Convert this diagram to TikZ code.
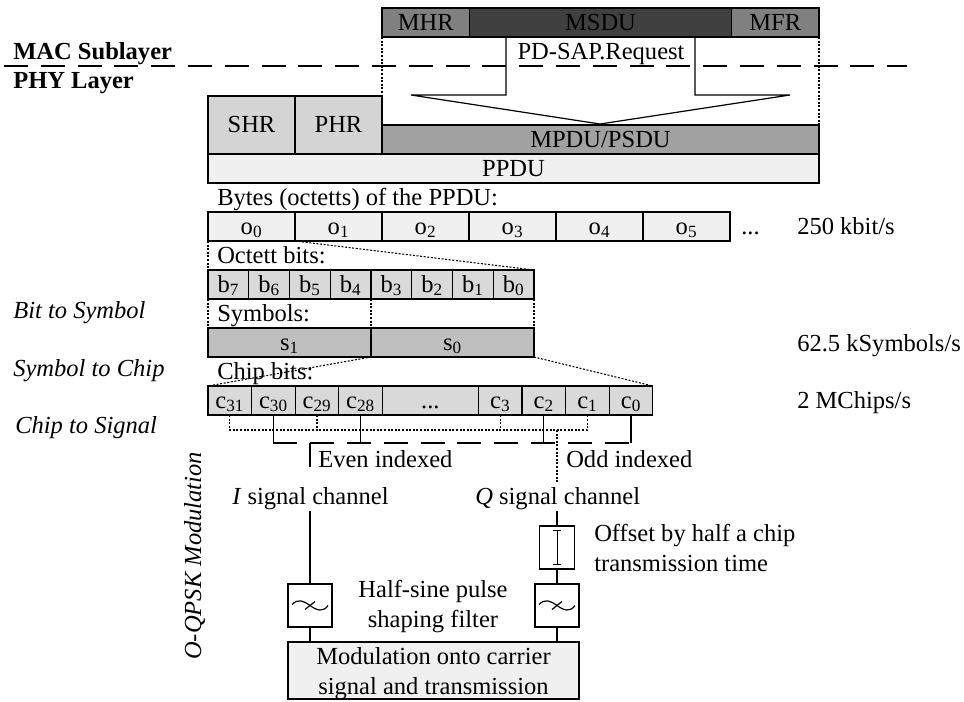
\documentclass[tikz,border=0pt]{standalone}
\usepackage{fontspec}
\setmainfont{Liberation Serif}
\usetikzlibrary{positioning}

\begin{document}
\begin{tikzpicture}[
    x=0.75pt, y=-0.75pt,
    every node/.style={font=\fontsize{18.4}{22.5}\selectfont},
    field/.style={draw, line width=0.9pt, inner sep=0pt, outer sep=0pt, minimum height=21.75pt, text height=13pt, text depth=1.75pt, minimum width=#1*0.75pt},
    txt/.style={inner sep=0pt, anchor=base west},
    sidenote/.style={txt, font=\fontsize{18.4}{22.5}\selectfont\itshape},
    head/.style={txt, font=\fontsize{18.4}{22.5}\selectfont\bfseries},
    conn/.style={line width=0.9pt},
    dots/.style={line width=0.8pt, dash pattern=on 1.5pt off 1.2pt},
    layerline/.style={line width=0.9pt, dash pattern=on 18pt off 9.6pt},
    filterbox/.style={draw, line width=0.9pt, outer sep=0pt, minimum width=33pt, minimum height=32.25pt, fill=white, anchor=north},
    lowpass/.pic={
        \draw[conn] (-18,-1) .. controls (-12,-7) and (-7,-5) .. (0,0) .. controls (7,5) and (13,7) .. (18,0);
        \draw[conn] (-5,4) -- (5,-4);
    }
]
\useasboundingbox (0,0) rectangle (964,701);

% MAC frame
\node[field=87.5, fill=black!50, anchor=north west] (mhr) at (382,8) {MHR};
\node[field=262, fill=black!75, right=0pt of mhr] (msdu) {MSDU};
\node[field=87.5, fill=black!50, right=0pt of msdu] (mfr) {MFR};

% PHY frame
\node[field=87, minimum height=43.5pt, fill=black!17, anchor=north west] (shr) at (208,96) {SHR};
\node[field=87, minimum height=43.5pt, fill=black!17, right=0pt of shr] (phr) {PHR};
\node[field=437, fill=black!37, anchor=south west] (mpdu) at (phr.south east) {MPDU/PSDU};
\node[field=611, fill=black!6, anchor=north west] (ppdu) at (shr.south west) {PPDU};

% Bytes
\node[field=87, fill=black!6, anchor=north west] (o0) at (208,212) {o\textsubscript{0}};
\node[field=87, fill=black!6, right=0pt of o0] (o1) {o\textsubscript{1}};
\node[field=87, fill=black!6, right=0pt of o1] (o2) {o\textsubscript{2}};
\node[field=87, fill=black!6, right=0pt of o2] (o3) {o\textsubscript{3}};
\node[field=87, fill=black!6, right=0pt of o3] (o4) {o\textsubscript{4}};
\node[field=87, fill=black!6, right=0pt of o4] (o5) {o\textsubscript{5}};

% Bits
\node[field=40.75, fill=black!15, anchor=north west] (b7) at (208,270) {b\textsubscript{7}};
\node[field=40.75, fill=black!15, right=0pt of b7] (b6) {b\textsubscript{6}};
\node[field=40.75, fill=black!15, right=0pt of b6] (b5) {b\textsubscript{5}};
\node[field=40.75, fill=black!15, right=0pt of b5] (b4) {b\textsubscript{4}};
\node[field=40.75, fill=black!15, right=0pt of b4] (b3) {b\textsubscript{3}};
\node[field=40.75, fill=black!15, right=0pt of b3] (b2) {b\textsubscript{2}};
\node[field=40.75, fill=black!15, right=0pt of b2] (b1) {b\textsubscript{1}};
\node[field=40.75, fill=black!15, right=0pt of b1] (b0) {b\textsubscript{0}};

% Symbols
\node[field=163, fill=black!25, anchor=north west] (s1) at (208,328) {s\textsubscript{1}};
\node[field=163, fill=black!25, right=0pt of s1] (s0) {s\textsubscript{0}};

% Chips
\node[field=43.6, fill=black!15, anchor=north west] (c31) at (208,386) {c\textsubscript{31}};
\node[field=43.6, fill=black!15, right=0pt of c31] (c30) {c\textsubscript{30}};
\node[field=43.6, fill=black!15, right=0pt of c30] (c29) {c\textsubscript{29}};
\node[field=43.6, fill=black!15, right=0pt of c29] (c28) {c\textsubscript{28}};
\node[field=96, fill=black!15, right=0pt of c28] (cdots) {...};
\node[field=43.6, fill=black!15, right=0pt of cdots] (c3) {c\textsubscript{3}};
\node[field=43.6, fill=black!15, right=0pt of c3] (c2) {c\textsubscript{2}};
\node[field=43.6, fill=black!15, right=0pt of c2] (c1) {c\textsubscript{1}};
\node[field=43.6, fill=black!15, right=0pt of c1] (c0) {c\textsubscript{0}};

% Modulation blocks
\node[filterbox] (ifilter) at (310,584) {};
\node[filterbox] (qfilter) at (557,584) {};
\node[filterbox, line width=1.1pt, minimum width=26.5pt] (offset) at (557,526) {};
\node[draw, line width=0.9pt, outer sep=0pt, inner sep=0pt, minimum width=218.25pt, minimum height=42.75pt, text depth=0pt, fill=black!6, align=center, anchor=north west] (carrier) at (288,642) {Modulation onto carrier\\signal and transmission};
\pic at (ifilter.center) {lowpass};
\pic at (qfilter.center) {lowpass};

% Labels
\node[head] (maclabel) at (13,59) {MAC Sublayer};
\node[head] (phylabel) at (13,88) {PHY Layer};
\node[txt, anchor=base] (request) at (601,59) {PD-SAP.Request};
\node[txt] (bytes) at (217,205) {Bytes (octetts) of the PPDU:};
\node[txt] (more) at (741,234) {...};
\node[txt] (byterate) at (797,234) {250 kbit/s};
\node[txt] (octett) at (217,263) {Octett bits:};
\node[txt] (symbols) at (217,321) {Symbols:};
\node[txt] (symrate) at (797,351) {62.5 kSymbols/s};
\node[txt] (chipbits) at (217,379) {Chip bits:};
\node[txt] (chiprate) at (797,408) {2 MChips/s};
\node[sidenote] (bitsym) at (13,318) {Bit to Symbol};
\node[sidenote] (symchip) at (13,376) {Symbol to Chip};
\node[sidenote] (chipsig) at (15,433) {Chip to Signal};
\node[sidenote, rotate=90] (oqpsk) at (201,660) {O-QPSK Modulation};
\node[txt] (even) at (318,467) {Even indexed};
\node[txt] (odd) at (566,467) {Odd indexed};
\node[txt] (ilabel) at (232,504) {\textit{I} signal channel};
\node[txt] (qlabel) at (475,504) {\textit{Q} signal channel};
\node[txt, align=left, anchor=north west] (offsetlabel) at (594,524) {Offset by half a chip\\transmission time};
\node[txt, align=center, anchor=north] (pulse) at (433,580) {Half-sine pulse\\shaping filter};

% Layer border
\coordinate (layerleft) at (4,66);
\coordinate (layerright) at (907,66);
\draw[layerline] (layerleft) -- (layerright);

% Hand over from MAC to PHY
\coordinate (reqleft) at (506,95);
\coordinate (reqright) at (695,95);
\coordinate (reqtip) at (600,124);
\draw[conn] (reqleft |- msdu.south) -- (reqleft) -- (411,95) -- (reqtip) -- (790,95) -- (reqright) -- (reqright |- msdu.south);
\draw[dots] (mhr.south west) -- (phr.north east);
\draw[dots] (mfr.south east) -- (mpdu.north east);

% Expansion between the rows
\draw[dots] (o0.south west) -- (b7.north west);
\draw[dots] (o0.south east) -- (b0.north east);
\draw[dots] (b7.south west) -- (s1.north west);
\draw[dots] (b4.south east) -- (s1.north east);
\draw[dots] (b0.south east) -- (s0.north east);
\draw[dots] (s1.south east) -- (c31.north west);
\draw[dots] (s0.south east) -- (c0.north east);

% Odd chips to Q
\coordinate (oddbus) at (557,430);
\coordinate (oddend) at (557,482);
\draw[dots] (c31.south) -- (c31.south |- oddbus) -- (c1.south |- oddbus) -- (c1.south);
\draw[dots] (c29.south) -- (c29.south |- oddbus);
\draw[dots] (c3.south) -- (c3.south |- oddbus);
\draw[dots] (oddbus) -- (oddend);

% Even chips to I
\coordinate (evenbus) at (310,443);
\coordinate (evenend) at (310,467);
\coordinate (istart) at (310,511);
\coordinate (qstart) at (557,511);
\draw[conn] (c30.south) -- (c30.south |- evenbus);
\draw[conn] (c28.south) -- (c28.south |- evenbus);
\draw[conn] (c2.south) -- (c2.south |- evenbus);
\draw[conn] (c0.south) -- (c0.south |- evenbus);
\draw[layerline] (c30.south |- evenbus) -- (c0.south |- evenbus);
\draw[conn] (evenbus) -- (evenend);

% Signal paths
\draw[conn] (istart) -- (ifilter.north);
\draw[conn] (ifilter.south) -- (ifilter.south |- carrier.north);
\draw[conn] (qfilter.south) -- (qfilter.south |- carrier.north);
\draw[conn] (offset.south) -- (qfilter.north);
\draw[conn] (qstart) -- (offset.north);
\draw[line width=0.6pt, |-|] ([yshift=-3pt]offset.north) -- ([yshift=3pt]offset.south);

\end{tikzpicture}
\end{document}
